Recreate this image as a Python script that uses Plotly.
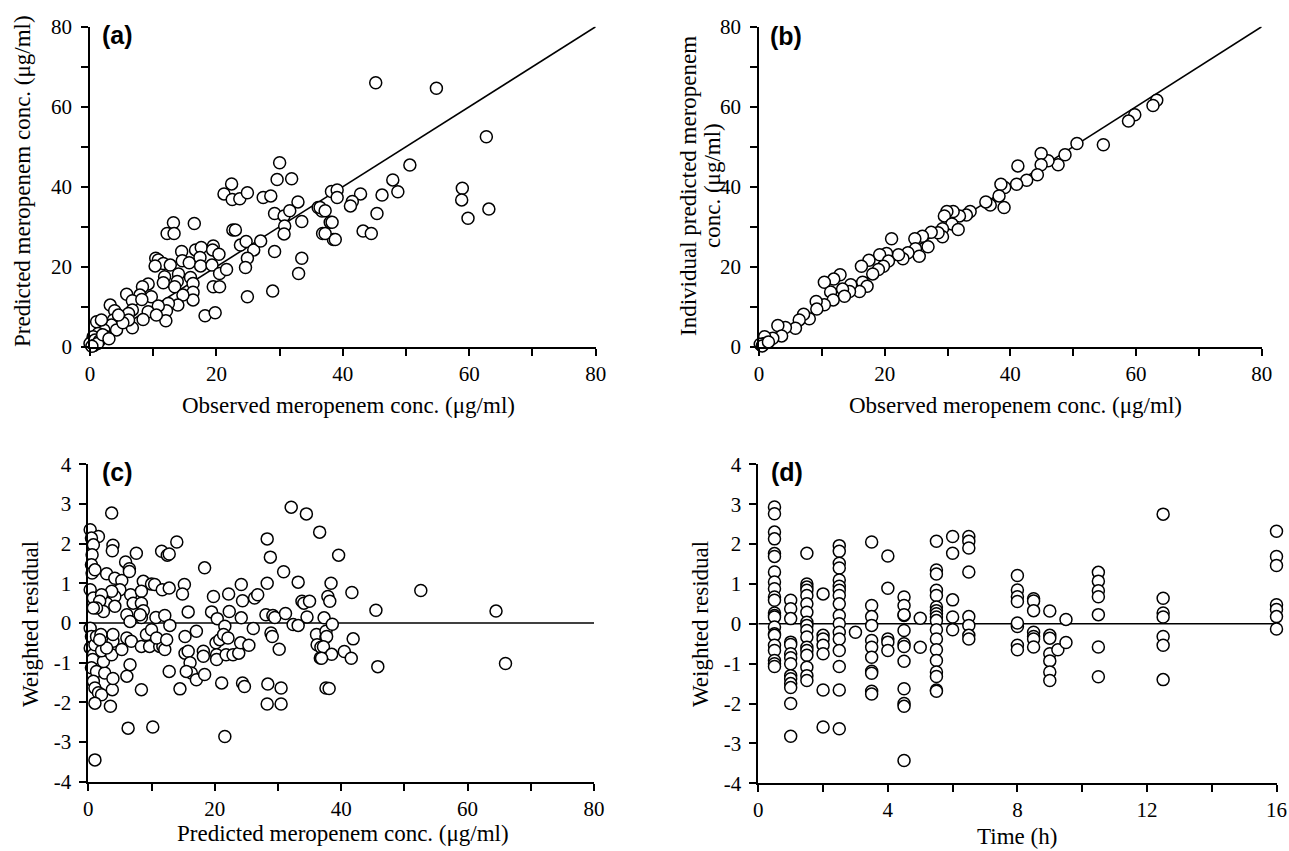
import plotly.graph_objects as go

# ---------------- data ----------------
# (a) observed vs population predicted
a_obs = [30.0, 29.6, 31.9, 22.4, 21.2, 22.5, 23.7, 24.9, 27.4, 28.6, 29.2, 30.7, 31.6, 32.9, 30.8, 30.7,
         33.5, 29.2, 33.5, 33.0, 28.9, 24.9, 36.1, 36.7, 38.0, 36.8, 38.5, 38.2, 39.1, 39.1, 22.6, 23.0,
         23.8, 24.7, 25.9, 27.0, 24.9, 24.6, 13.2, 12.2, 13.3, 16.5, 10.4, 10.8, 11.6, 12.7, 10.3, 14.5,
         14.6, 15.7, 16.7, 17.6, 17.4, 17.5, 19.5, 19.4, 20.4, 19.3, 20.5, 21.6, 14.0, 13.8, 11.8, 11.6,
         15.9, 13.4, 16.3, 16.3, 16.3, 19.5, 20.5, 18.2, 19.8, 14.7, 13.9, 12.4, 12.1, 12.0, 9.2, 8.3,
         7.9, 9.7, 10.8, 9.2, 10.5, 8.4, 5.8, 6.7, 8.2, 6.7, 6.1, 6.7, 6.1, 3.2, 3.9, 3.7, 3.4, 4.2,
         5.2, 4.5, 2.2, 1.05, 1.8, 1.3, 0.5, 0.26, 0.0, 0.8, 2.6, 1.5, 0.6, 1.2, 2.0, 3.0, 0.3,
         45.2, 54.8, 62.7, 50.6, 47.9, 48.7, 46.2, 42.8, 41.5, 41.2, 45.4, 58.9, 58.8, 59.8, 63.1, 43.2,
         44.5, 36.4, 37.2, 38.3, 37.2, 38.8]
a_pred = [46.0, 41.8, 42.0, 40.7, 38.2, 36.8, 37.0, 38.5, 37.3, 37.7, 33.3, 32.7, 34.0, 36.2, 30.2, 28.2,
          31.3, 23.8, 22.1, 18.3, 13.9, 12.5, 34.8, 33.9, 31.1, 28.3, 26.8, 38.8, 39.2, 37.3, 29.2, 29.2,
          25.4, 26.3, 24.2, 26.4, 22.1, 19.8, 31.0, 28.3, 28.3, 30.8, 22.1, 21.7, 20.8, 20.4, 20.2, 23.8,
          21.5, 21.0, 24.2, 24.8, 22.3, 20.2, 25.2, 24.2, 23.1, 20.4, 18.3, 19.3, 18.2, 16.3, 17.5, 16.0,
          17.3, 15.0, 15.8, 13.6, 11.7, 15.0, 15.0, 7.75, 8.5, 12.9, 10.4, 10.8, 9.0, 6.5, 15.7, 15.0,
          12.9, 12.5, 10.2, 8.75, 7.9, 6.8, 13.1, 11.5, 11.8, 9.2, 8.3, 4.75, 6.7, 10.4, 9.0, 6.7, 5.4, 4.2,
          6.0, 7.9, 4.2, 6.25, 6.7, 3.3, 2.5, 1.25, 0.8, 1.7, 2.5, 1.5, 0.3, 0.8, 3.0, 2.0, 0.1,
          66.0, 64.6, 52.5, 45.4, 41.7, 38.75, 37.9, 38.2, 36.3, 35.2, 33.3, 39.6, 36.7, 32.1, 34.4, 28.9,
          28.3, 34.8, 34.0, 31.1, 28.3, 26.8]

# (b) observed vs individual predicted
b_obs = [63.3, 62.7, 59.8, 58.8, 54.8, 50.6, 48.7, 47.6, 46.0, 44.9, 44.9, 44.3, 42.6, 41.2, 41.0, 39.1,
         38.5, 38.2, 39.0, 36.8, 36.1, 33.6, 33.0, 31.9, 30.9, 29.9, 29.5, 30.7, 31.7, 29.2, 29.2, 28.5,
         27.4, 26.0, 24.8, 26.9, 24.9, 25.5, 23.7, 22.9, 22.2, 21.1, 20.3, 19.2, 20.6, 19.8, 19.0, 17.5,
         16.3, 18.1, 16.5, 17.2, 16.0, 14.6, 14.4, 13.3, 13.6, 12.9, 11.9, 10.4, 11.4, 11.8, 10.4, 9.1,
         9.2, 8.0, 7.1, 6.4, 5.8, 4.2, 3.0, 3.6, 2.2, 0.9, 0.9, 0.2, 0.5, 1.5]
b_ipred = [61.6, 60.3, 58.0, 56.4, 50.5, 50.8, 48.0, 45.5, 46.5, 48.3, 45.5, 43.0, 41.6, 45.2, 40.6, 39.8,
           40.6, 37.7, 34.8, 35.4, 36.2, 33.8, 32.9, 32.7, 33.8, 33.8, 32.7, 30.7, 29.3, 29.5, 27.5, 28.5,
           28.6, 27.6, 27.0, 25.0, 24.5, 22.6, 23.5, 22.0, 23.0, 27.0, 23.3, 23.0, 21.4, 20.1, 19.3, 21.6,
           20.1, 18.2, 16.1, 15.1, 13.8, 15.5, 13.8, 14.4, 12.6, 18.0, 16.9, 16.1, 13.7, 11.7, 10.5, 11.3,
           9.4, 7.0, 8.1, 6.7, 4.6, 4.8, 5.3, 2.7, 2.1, 2.5, 0.8, 0.6, 0.2, 1.2]

# (c) weighted residual vs predicted
c_pred = [3.7, 0.3, 1.6, 0.5, 0.8, 0.6, 3.9, 3.8, 0.5, 0.6, 1.05, 0.3, 0.8, 2.9, 4.2, 5.3, 5.0, 4.2,
          2.9, 3.7, 4.2, 2.1, 1.8, 2.4, 1.3, 0.8, 5.9, 6.5, 6.5, 7.6, 6.7, 7.1, 6.1, 6.6, 8.7, 10.0,
          10.5, 8.4, 8.4, 8.7, 8.4, 8.2, 11.6, 12.5, 12.8, 14.0, 11.7, 12.8, 10.7, 12.1, 12.9, 15.2,
          14.9, 15.8, 18.4, 19.5, 19.8, 20.4, 22.2, 22.3, 24.2, 24.4, 24.2, 26.3, 26.8, 26.1, 28.3,
          28.8, 28.3, 28.1, 29.2, 29.5, 30.9, 31.2, 32.1, 34.5, 36.6, 33.2, 33.8, 34.1, 35.0, 32.4,
          33.2, 34.6, 36.1, 37.6, 36.2, 36.8, 36.7, 37.6, 37.6, 38.4, 37.9, 38.2,
          0.3, 0.5, 0.3, 0.8, 1.05, 1.3, 0.7, 0.5, 1.3, 0.8, 1.05, 1.6, 2.1, 1.05, 3.5, 3.8, 2.6, 3.9,
          2.4, 2.1, 3.7, 3.9, 2.9, 3.9, 2.0, 1.8, 5.3, 6.1, 6.6, 6.1, 6.8, 6.3, 1.05, 8.4, 10.2, 8.4,
          9.7, 11.3, 11.8, 12.1, 9.2, 10.0, 10.8, 12.4, 12.8, 14.5, 15.3, 15.3, 15.8, 16.1, 16.3, 15.5,
          17.1, 17.1, 18.2, 18.2, 18.4, 20.2, 20.3, 20.3, 20.8, 21.6, 21.4, 22.1, 21.1, 21.6, 21.8,
          22.9, 23.8, 24.1, 25.4, 24.4, 24.7, 28.4, 28.3, 28.9, 29.1, 30.2, 30.5, 30.5,
          39.6, 41.7, 45.5, 52.6, 64.5, 37.3, 38.6, 37.7, 37.2, 38.5, 36.9, 40.5, 41.6, 41.9, 45.8,
          66.0, 38.1]
c_wres = [2.77, 2.35, 2.18, 2.14, 1.97, 1.72, 1.96, 1.82, 1.47, 1.26, 1.34, 0.84, 0.63, 1.24, 1.13,
          1.07, 0.84, 0.67, 0.5, 0.8, 0.42, 0.71, 0.55, 0.29, 0.38, 0.38, 1.54, 1.37, 1.3, 1.76, 0.71,
          0.5, 0.21, 0.04, 1.05, 0.98, 0.97, 0.8, 0.5, 0.31, 0.14, 0.21, 1.81, 1.71, 1.74, 2.04, 0.84,
          0.88, 0.14, 0.19, -0.06, 0.97, 0.73, 0.28, 1.39, 0.28, 0.67, 0.11, 0.73, 0.29, 0.97, 0.56,
          0.13, 0.63, 0.71, -0.14, 2.12, 1.66, 1.0, 0.21, 0.19, 0.14, 1.29, 0.24, 2.92, 2.75, 2.29,
          1.03, 0.55, 0.5, 0.55, -0.04, -0.06, 0.15, -0.29, -0.36, -0.55, -0.61, -0.88, -0.21, -1.64,
          1.0, 0.67, 0.55,
          -0.13, -0.34, -0.63, -0.8, -0.55, -0.34, -0.92, -1.13, -1.22, -1.47, -1.64, -1.76, -1.81,
          -2.02, -2.1, -1.68, -1.26, -1.4, -0.97, -0.7, -0.8, -0.46, -0.63, -0.29, -0.29, -0.42, -0.67,
          -0.38, -1.05, -1.34, -0.46, -2.65, -3.45, -1.68, -2.62, -0.59, -0.59, -0.59, -0.59, -0.67,
          -0.29, -0.17, -0.38, -0.42, -1.22, -1.66, -0.34, -0.76, -0.71, -1.0, -1.26, -1.22, -1.43,
          -0.21, -0.71, -0.84, -1.3, -0.5, -0.8, -0.92, -0.42, -0.08, -0.29, -0.38, -1.51, -2.86, -0.8,
          -0.8, -0.76, -0.5, -0.56, -1.51, -1.6, -1.54, -2.04, -0.25, -0.34, -0.66, -1.64, -2.04,
          1.71, 0.77, 0.32, 0.82, 0.30, 0.13, -0.03, -0.34, -0.6, -0.79, -0.89, -0.72, -0.89, -0.4, -1.1,
          -1.02, -1.65]

# (d) weighted residual vs time
d_time = ([0.5] * 22 + [1.0] * 14 + [1.5] * 17 + [2.0] * 7 + [2.5] * 17 + [3.0] + [3.5] * 11 +
          [4.0] * 5 + [4.5] * 12 + [5.0] * 2 + [5.5] * 18 + [6.0] * 5 + [6.5] * 8 + [8.0] * 9 +
          [8.5] * 7 + [9.0] * 7 + [9.25] + [9.5] * 2 + [10.5] * 7 + [12.5] * 7 + [16.0] * 7)
d_wres = [2.93, 2.76, 2.3, 2.13, 1.76, 1.69, 1.3, 1.05, 0.88, 0.67, 0.59, 0.27, 0.21, 0.17, -0.08,
          -0.25, -0.29, -0.54, -0.67, -0.92, -1.0, -1.07,
          0.59, 0.38, 0.13, -0.46, -0.52, -0.75, -0.85, -1.0, -1.3, -1.38, -1.5, -1.6, -2.0, -2.82,
          1.77, 1.0, 0.92, 0.84, 0.71, 0.5, 0.29, 0.04, -0.04, -0.17, -0.33, -0.59, -0.67, -0.79,
          -1.09, -1.3, -1.42,
          0.75, -0.29, -0.38, -0.54, -0.75, -1.66, -2.59,
          1.96, 1.82, 1.52, 1.4, 1.1, 0.94, 0.84, 0.71, 0.5, 0.21, 0.0, -0.21, -0.38, -0.67, -1.07,
          -1.66, -2.63,
          -0.21,
          2.05, 0.46, 0.18, -0.04, -0.42, -0.59, -0.84, -1.19, -1.24, -1.69, -1.76,
          1.7, 0.89, -0.38, -0.46, -0.67,
          0.67, 0.46, 0.21, 0.23, -0.17, -0.5, -0.57, -0.94, -1.63, -2.0, -2.07, -3.43,
          0.14, -0.59,
          2.07, 1.35, 1.25, 0.84, 0.71, 0.42, 0.33, 0.25, 0.17, 0.08, -0.15, -0.38, -0.65, -0.92,
          -1.21, -1.32, -1.66, -1.69,
          2.19, 1.77, 0.6, 0.17, -0.15,
          2.19, 2.07, 1.9, 1.3, 0.18, -0.04, -0.29, -0.38,
          1.21, 0.85, 0.68, 0.56, -0.02, -0.07, 0.02, -0.54, -0.65,
          0.63, 0.57, 0.33, -0.21, -0.32, -0.38, -0.58,
          0.32, -0.29, -0.36, -0.75, -0.93, -1.21, -1.42,
          -0.65,
          0.11, -0.47,
          1.29, 1.07, 0.83, 0.68, 0.23, -0.58, -1.33,
          2.75, 0.64, 0.27, 0.17, -0.32, -0.54, -1.4,
          2.32, 1.69, 1.46, 0.48, 0.36, 0.18, -0.13]

# reference lines
identity_x = [0, 80]
identity_y = [0, 80]
zero_c_x = [0, 80]
zero_d_x = [0, 16]
zero_y = [0, 0]

# tick values / labels
conc_ticks = [0, 10, 20, 30, 40, 50, 60, 70, 80]
conc_labels = ["0", "", "20", "", "40", "", "60", "", "80"]
wres_ticks = [-4, -3, -2, -1, 0, 1, 2, 3, 4]
wres_labels = ["-4", "-3", "-2", "-1", "0", "1", "2", "3", "4"]
time_ticks = [0, 2, 4, 6, 8, 10, 12, 14, 16]
time_labels = ["0", "", "4", "", "8", "", "12", "", "16"]

# ---------------- figure ----------------
W, H = 1289, 851
def px(x):
    return x / W
def py(y):
    return 1 - y / H

SERIF = "Liberation Serif, Times New Roman, serif"
fig = go.Figure()

marker = dict(symbol="circle", size=12, color="white", line=dict(color="black", width=1.5))
line_style = dict(color="black", width=1.6)

panels = [
    ("x", "y", identity_x, identity_y, a_obs, a_pred),
    ("x2", "y2", identity_x, identity_y, b_obs, b_ipred),
    ("x3", "y3", zero_c_x, zero_y, c_pred, c_wres),
    ("x4", "y4", zero_d_x, zero_y, d_time, d_wres),
]
for xa, ya, lx, ly, sx, sy in panels:
    fig.add_trace(go.Scatter(x=lx, y=ly, mode="lines", line=line_style, xaxis=xa, yaxis=ya,
                             showlegend=False, hoverinfo="skip", cliponaxis=False))
    fig.add_trace(go.Scatter(x=sx, y=sy, mode="markers", marker=marker, xaxis=xa, yaxis=ya,
                             showlegend=False, cliponaxis=False))

def axis(domain, rng, tickvals, ticktext, anchor, standoff=0):
    return dict(domain=domain, range=rng, tickvals=tickvals, ticktext=ticktext, anchor=anchor,
                showgrid=False, zeroline=False, showline=True, linecolor="black", linewidth=1.8,
                ticks="outside", ticklen=7, tickwidth=1.5, tickcolor="black", automargin=False,
                ticklabelstandoff=standoff,
                tickfont=dict(family=SERIF, size=21, color="black"), fixedrange=True)

fig.update_layout(
    width=W, height=H, margin=dict(l=0, r=0, t=0, b=0, pad=0, autoexpand=False),
    paper_bgcolor="white", plot_bgcolor="white",
    xaxis=axis([px(90), px(595.7)], [0, 80], conc_ticks, conc_labels, "y"),
    yaxis=axis([py(346.7), py(26.7)], [0, 80], conc_ticks, conc_labels, "x", 5),
    xaxis2=axis([px(759), px(1261.7)], [0, 80], conc_ticks, conc_labels, "y2"),
    yaxis2=axis([py(346.7), py(26.7)], [0, 80], conc_ticks, conc_labels, "x2", 5),
    xaxis3=axis([px(88.3), px(594)], [0, 80], conc_ticks, conc_labels, "y3"),
    yaxis3=axis([py(781.7), py(464.3)], [-4, 4], wres_ticks, wres_labels, "x3", 4),
    xaxis4=axis([px(758.3), px(1276.5)], [0, 16], time_ticks, time_labels, "y4"),
    yaxis4=axis([py(783.3), py(464.3)], [-4, 4], wres_ticks, wres_labels, "x4", 4),
)

def ann(text, x, y, angle=0, size=23, family=SERIF):
    fig.add_annotation(text=text, x=px(x), y=py(y), xref="paper", yref="paper", showarrow=False,
                       textangle=angle, xanchor="center", yanchor="middle",
                       font=dict(family=family, size=size, color="black"))

# axis titles
ann("Observed meropenem conc. (μg/ml)", 348, 405)
ann("Observed meropenem conc. (μg/ml)", 1015, 405)
ann("Predicted meropenem conc. (μg/ml)", 343, 833)
ann("Time (h)", 1017, 836)
ann("Predicted meropenem conc. (μg/ml)", 22, 181, angle=-90)
ann("Individual predicted meropenem", 688, 186, angle=-90)
ann("conc. (μg/ml)", 712, 186, angle=-90)
ann("Weighted residual", 30, 624, angle=-90)
ann("Weighted residual", 700, 624, angle=-90)

# panel labels
SANS = "Liberation Sans, Arial, sans-serif"
ann("<b>(a)</b>", 117, 35, size=25, family=SANS)
ann("<b>(b)</b>", 786, 36, size=25, family=SANS)
ann("<b>(c)</b>", 117, 472, size=25, family=SANS)
ann("<b>(d)</b>", 787, 472, size=25, family=SANS)

fig.write_html("out.html", config={"displayModeBar": False},
               post_script="document.body.style.margin='0';document.body.style.overflow='hidden';")
